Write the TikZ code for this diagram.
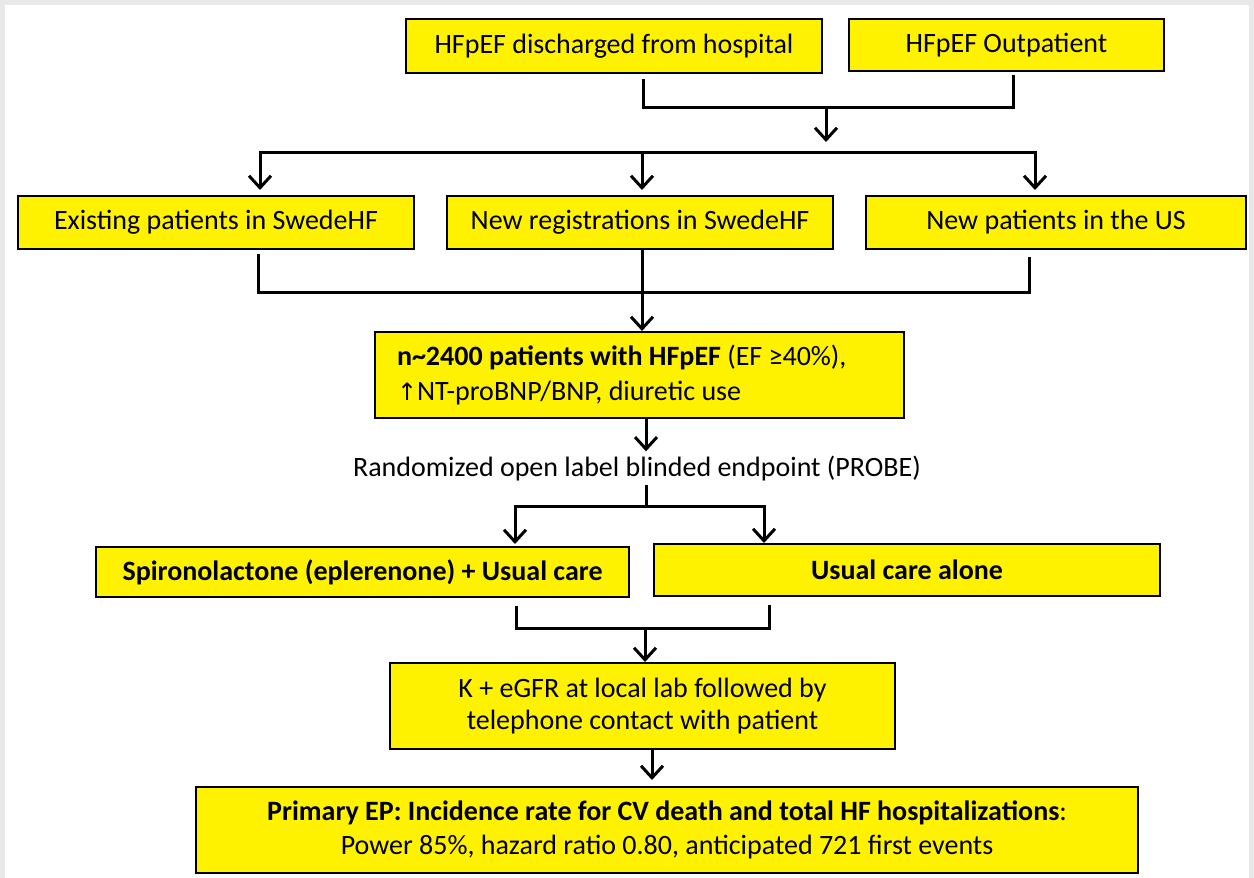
\documentclass[tikz,border=0pt]{standalone}
\usepackage{fontspec}
\setmainfont{Carlito}
\newfontfamily\symfont{DejaVu Sans}
\usetikzlibrary{arrows.meta,calc}
\begin{document}
\begin{tikzpicture}[x=1pt,y=-1pt,
  box/.style={draw=black, line width=2pt, fill=yellow, inner sep=0pt, align=center,
    font=\fontsize{28}{34}\selectfont},
  ln/.style={line width=3pt, line cap=rect},
  arr/.style={line width=3pt, -{Straight Barb[length=12pt,width=22pt,line width=3pt]}}]
% background
\fill[black!9] (0,0) rectangle (1254,878);
\fill[white] (5,5) rectangle (1249,878);
\useasboundingbox (0,0) rectangle (1254,878);

% nodes
\node[box, minimum width=416pt, minimum height=54pt] (A) at (614,46) {HFpEF discharged from hospital};
\node[box, minimum width=315pt, minimum height=52pt] (B) at (1006.5,45) {HFpEF Outpatient};
\node[box, minimum width=396pt, minimum height=53pt] (C) at (216,222.5) {Existing patients in SwedeHF};
\node[box, minimum width=386pt, minimum height=53pt] (D) at (640,222.5) {New registrations in SwedeHF};
\node[box, minimum width=380pt, minimum height=53pt] (E) at (1056,222.5) {New patients in the US};
\node[box, minimum width=529pt, minimum height=86pt, align=flush left, text width=485pt,
  font=\fontsize{28}{35}\selectfont] (F) at (639.5,375)
  {\textbf{n{\char"7E}2400 patients with HFpEF} (EF ≥40\%),\\{\symfont\fontsize{24}{35}\selectfont↑}NT-proBNP/BNP, diuretic use};
\node[font=\fontsize{28}{34}\selectfont, inner sep=0pt] (R) at (637,469) {Randomized open label blinded endpoint (PROBE)};
\node[box, minimum width=533pt, minimum height=50pt] (G) at (362.5,572) {\textbf{Spironolactone (eplerenone) + Usual care}};
\node[box, minimum width=506pt, minimum height=52pt] (H) at (907,570) {\textbf{Usual care alone}};
\node[box, minimum width=505pt, minimum height=86pt, font=\fontsize{28}{32}\selectfont] (I) at (642.5,706) {K + eGFR at local lab followed by\\telephone contact with patient};
\node[box, minimum width=942pt, minimum height=86pt] (J) at (667,830) {\textbf{Primary EP: Incidence rate for CV death and total HF hospitalizations}:\\Power 85\%, hazard ratio 0.80, anticipated 721 first events};

% junction coordinates
\coordinate (j1) at (826,107);
\coordinate (b1L) at (260,152);
\coordinate (b1M) at (642,152);
\coordinate (b1R) at (1035,152);
\coordinate (j2) at (642,292);
\coordinate (j3) at (646,506);
\coordinate (b3L) at (515,506);
\coordinate (b3R) at (764,506);
\coordinate (j4) at (645,628);

% first merge
\draw[ln] ($(A.south)+(29,6)$) |- (j1) -| ($(B.south)+(6.5,4)$);
\draw[arr] (j1) -- ($(j1)+(0,35)$);
% distribution
\draw[ln] (b1L) -- (b1R);
\draw[arr] (b1L) -- ($(C.north -| b1L)+(0,-5)$);
\draw[arr] (b1M) -- ($(D.north -| b1M)+(0,-5)$);
\draw[arr] (b1R) -- ($(E.north -| b1R)+(0,-5)$);
% second merge
\draw[ln] ($(C.south)+(42,5)$) |- (j2) -| ($(E.south)+(-27,8)$);
\draw[arr] (D.south -| j2) -- (F.north -| j2);
% randomisation
\draw[arr] (F.south -| j3) -- ($(R.north -| j3)+(0,-5)$);
\draw[ln] ($(R.south -| j3)+(0,5)$) -- (j3);
\draw[ln] (b3L) -- (b3R);
\draw[arr] (b3L) -- ($(G.north -| b3L)+(0,-2)$);
\draw[arr] (b3R) -- (H.north -| b3R);
% third merge
\draw[ln] ($(G.south)+(153.5,9)$) |- (j4) -| ($(H.south)+(-138,9)$);
\draw[arr] (j4) -- (I.north -| j4);
\draw[arr] (I.south -| 652,0) -- ($(J.north -| 652,0)+(0,-6)$);
\end{tikzpicture}
\end{document}
